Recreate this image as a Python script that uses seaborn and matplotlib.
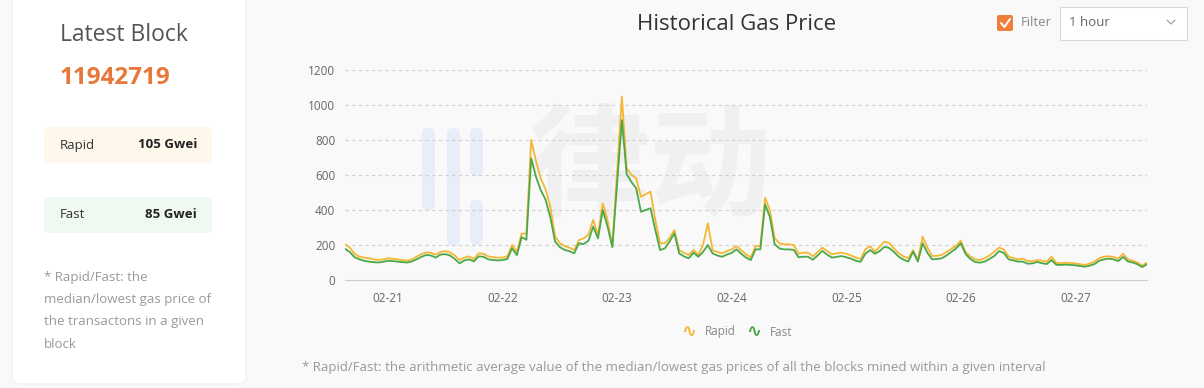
import numpy as np
import pandas as pd
import seaborn as sns
import matplotlib.pyplot as plt
import matplotlib.dates as mdates
from matplotlib.patches import FancyBboxPatch, Rectangle

# hourly gas price, 02-20 15:00 -> 02-27 15:00
rapid = [
    205, 185, 150, 133, 128, 124, 118, 114, 118,
    124, 122, 118, 114, 110, 118, 133, 148, 158, 155, 145, 160,
    165, 158, 140, 114, 128, 135, 120, 152, 150, 135, 130, 128,
    128, 135, 200, 160, 265, 265, 800, 680, 580, 520, 420, 250,
    210, 195, 185, 171, 228, 238, 260, 343, 257, 438, 343, 190,
    620, 1048, 640, 600, 581, 476, 490, 505, 343, 210, 210, 240,
    286, 171, 155, 143, 171, 143, 200, 324, 171, 160, 152, 165,
    175, 194, 170, 147, 128, 194, 194, 470, 400, 240, 210, 204,
    204, 200, 150, 156, 156, 135, 160, 185, 165, 147, 152, 156,
    150, 140, 128, 120, 175, 194, 162, 190, 219, 212, 180, 152,
    135, 124, 171, 114, 248, 185, 137, 138, 143, 160, 178, 195,
    225, 160, 135, 118, 114, 124, 140, 162, 185, 175, 135, 125,
    118, 122, 108, 108, 114, 110, 105, 133, 98, 96, 99, 97,
    95, 90, 86, 94, 105, 125, 133, 136, 132, 122, 150, 118,
    110, 100, 82, 100,
]
fast = [
    178, 160, 130, 118, 110, 105, 102, 100, 104,
    110, 108, 105, 102, 100, 106, 118, 132, 143, 140, 128, 145,
    148, 140, 120, 95, 112, 118, 106, 135, 133, 118, 114, 112,
    114, 120, 181, 142, 245, 230, 695, 590, 514, 460, 360, 220,
    188, 172, 165, 152, 210, 205, 225, 305, 238, 400, 305, 188,
    550, 914, 605, 560, 524, 390, 400, 410, 286, 171, 181, 220,
    267, 152, 135, 124, 156, 133, 160, 200, 152, 140, 133, 145,
    155, 175, 150, 128, 114, 175, 175, 432, 360, 205, 180, 175,
    175, 172, 130, 133, 133, 116, 140, 166, 145, 128, 132, 137,
    130, 122, 110, 104, 150, 171, 150, 165, 190, 183, 160, 133,
    116, 105, 162, 105, 210, 155, 118, 120, 124, 140, 160, 180,
    210, 148, 120, 103, 99, 105, 120, 137, 165, 155, 118, 112,
    105, 105, 93, 95, 103, 96, 91, 114, 87, 86, 88, 86,
    84, 80, 76, 82, 91, 110, 118, 122, 118, 108, 132, 106,
    100, 90, 74, 90,
]
times = pd.date_range("2021-02-20 15:00", periods=len(rapid), freq="h")
series_names = ["Rapid", "Fast"]
colors = ["#f5b731", "#4aa84a"]
yticks = [0, 200, 400, 600, 800, 1000, 1200]

df = pd.DataFrame({"time": times, "Rapid": rapid, "Fast": fast})
long_df = df.melt(id_vars="time", var_name="type", value_name="gwei")

W, H = 1204, 388
fig = plt.figure(figsize=(W / 100, H / 100), dpi=100, facecolor="#f9f9f9")
sns.set_style("white")
plt.rcParams["font.family"] = ["Open Sans", "Noto Sans CJK SC", "DejaVu Sans"]

# background layer in pixel coords
bg = fig.add_axes([0, 0, 1, 1], zorder=0)
bg.set_xlim(0, W)
bg.set_ylim(H, 0)
bg.axis("off")
bg.add_patch(FancyBboxPatch((12, -10), 234, 394, boxstyle="round,pad=0,rounding_size=8",
                            fc="white", ec="#f0f0f0", lw=0.8))
bg.add_patch(FancyBboxPatch((44, 127), 168, 36, boxstyle="round,pad=0,rounding_size=5",
                            fc="#fdf7ec", ec="none"))
bg.add_patch(FancyBboxPatch((44, 197), 168, 36, boxstyle="round,pad=0,rounding_size=5",
                            fc="#f0f8f2", ec="none"))

bg.text(60, 35, "Latest Block", fontsize=16.5, color="#555555", va="center")
bg.text(60, 78, "11942719", fontsize=17.5, color="#e8773a", va="center", fontweight="bold")
bg.text(60, 145, "Rapid", fontsize=9.5, color="#333333", va="center")
bg.text(197, 145, "105 Gwei", fontsize=9.5, color="#222222", va="center", ha="right", fontweight="bold")
bg.text(60, 215, "Fast", fontsize=9.5, color="#333333", va="center")
bg.text(197, 215, "85 Gwei", fontsize=9.5, color="#222222", va="center", ha="right", fontweight="bold")
note = ["* Rapid/Fast: the", "median/lowest gas price of", "the transactons in a given", "block"]
for i, line in enumerate(note):
    bg.text(44, 278 + i * 22, line, fontsize=9.5, color="#999999", va="center")

# watermark
for x0, y0, h in [(422, 128, 82), (447, 128, 118), (470, 128, 48), (470, 200, 45)]:
    bg.add_patch(FancyBboxPatch((x0, y0), 13, h, boxstyle="round,pad=0,rounding_size=6",
                                fc="#e7eef9", ec="none"))
bg.text(650, 172, "律动", fontsize=88, color="#f0f0f0", ha="center", va="center",
        family=["Noto Sans CJK SC"], fontweight="bold")

# title and filter controls
bg.text(737, 24, "Historical Gas Price", fontsize=16, color="#333333", ha="center", va="center")
bg.add_patch(FancyBboxPatch((997, 15), 16, 16, boxstyle="round,pad=0,rounding_size=2",
                            fc="#ee7f3b", ec="none"))
bg.plot([1001, 1004.5, 1010], [23, 27, 19], color="white", lw=1.4)
bg.text(1021, 23, "Filter", fontsize=9.5, color="#888888", va="center")
bg.add_patch(Rectangle((1060, 7), 127, 33, fc="white", ec="#d9d9d9", lw=0.8))
bg.text(1069, 23, "1 hour", fontsize=9.5, color="#666666", va="center")
bg.plot([1167, 1171, 1175], [20, 24, 20], color="#999999", lw=0.8)

# legend
legend_pos = [(689, 705), (754, 770)]
for (ix, tx), name, c in zip(legend_pos, series_names, colors):
    bg.text(ix, 332, "∿", fontsize=13, color=c, ha="center", va="center",
            family=["DejaVu Sans"], fontweight="bold")
    bg.text(tx, 332, name, fontsize=8.5, color="#888888", va="center")

bg.text(302, 367, "* Rapid/Fast: the arithmetic average value of the median/lowest gas prices of all the blocks mined within a given interval",
        fontsize=9.5, color="#999999", va="center")

# chart
ax = fig.add_axes([345 / W, 1 - 280 / H, (1147 - 345) / W, (280 - 70) / H], zorder=1)
ax.patch.set_alpha(0)
sns.lineplot(data=long_df, x="time", y="gwei", hue="type", hue_order=series_names,
             palette=colors, linewidth=1.3, ax=ax, legend=False)
ax.set_xlim(times[0], times[-1])
ax.set_ylim(0, 1200)
ax.set_yticks(yticks)
ax.set_xlabel("")
ax.set_ylabel("")
ax.xaxis.set_major_locator(mdates.DayLocator())
ax.xaxis.set_major_formatter(mdates.DateFormatter("%m-%d"))
for y in yticks[1:]:
    ax.axhline(y, color="#d0d0d0", lw=0.8, ls=(0, (3, 3)), zorder=0)
for s in ["top", "right", "left"]:
    ax.spines[s].set_visible(False)
ax.spines["bottom"].set_color("#cccccc")
ax.tick_params(axis="y", length=0, labelsize=8.5, labelcolor="#666666", pad=7)
ax.tick_params(axis="x", length=4, color="#cccccc", labelsize=8.5, labelcolor="#666666", pad=5)

fig.savefig("out.png", dpi=100, facecolor=fig.get_facecolor())
